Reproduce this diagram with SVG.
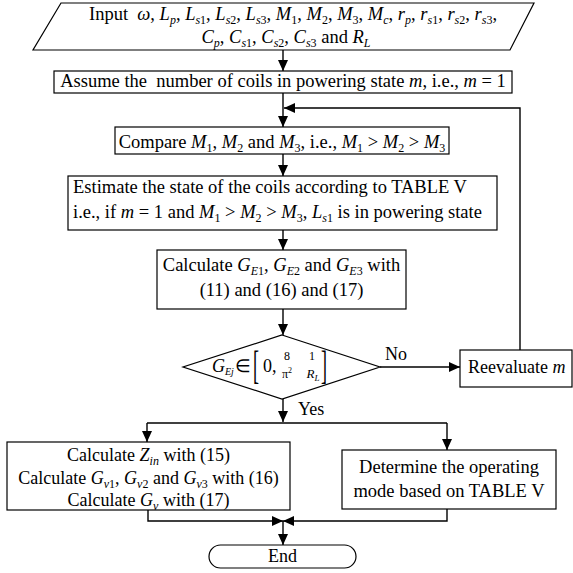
<svg xmlns="http://www.w3.org/2000/svg" width="573" height="573" viewBox="0 0 573 573">
<style>
.t{font-family:"Liberation Serif","Times New Roman",serif;font-size:18.5px;fill:#000}
.f18{font-size:18px}
.i{font-style:italic}
.s{font-size:12px}
.box{fill:#fff;stroke:#000;stroke-width:1.2}
.ln{fill:none;stroke:#000;stroke-width:1.4}
.m{text-anchor:middle}
</style>
<defs>
<marker id="ah" markerUnits="userSpaceOnUse" markerWidth="11" markerHeight="10" refX="11" refY="5" orient="auto">
<path d="M0,0 L11,5 L0,10 z" fill="#000"/>
</marker>
</defs>
<rect width="573" height="573" fill="#fff"/>

<g id="connectors">
<path class="ln" d="M283,50 V71" marker-end="url(#ah)"/>
<path class="ln" d="M283,93 V127" marker-end="url(#ah)"/>
<path class="ln" d="M520,350 V108 H284" marker-end="url(#ah)"/>
<path class="ln" d="M283,154 V176" marker-end="url(#ah)"/>
<path class="ln" d="M283,230 V250" marker-end="url(#ah)"/>
<path class="ln" d="M283,309 V335" marker-end="url(#ah)"/>
<path class="ln" d="M380,367 H460" marker-end="url(#ah)"/>
<path class="ln" d="M283,399 V422" marker-end="url(#ah)"/>
<path class="ln" d="M147,423 H447"/>
<path class="ln" d="M147,423 V442" marker-end="url(#ah)"/>
<path class="ln" d="M447,423 V450" marker-end="url(#ah)"/>
<path class="ln" d="M148,510 V521 H283" marker-end="url(#ah)"/>
<path class="ln" d="M447,509 V521 H283" marker-end="url(#ah)"/>
<path class="ln" d="M283,521 V545" marker-end="url(#ah)"/>
<text class="t f18" x="385" y="360">No</text>
<text class="t f18" x="298" y="415">Yes</text>
</g>

<g id="input">
<polygon class="box" points="61,3 534,3 510,50 33,50"/>
<text class="t m" x="293" y="20" xml:space="preserve">Input  <tspan class="i">ω</tspan>, <tspan class="i">L</tspan><tspan class="s i" dy="4">p</tspan><tspan dy="-4">, </tspan><tspan class="i">L</tspan><tspan class="s" dy="4"><tspan class="i">s</tspan>1</tspan><tspan dy="-4">, </tspan><tspan class="i">L</tspan><tspan class="s" dy="4"><tspan class="i">s</tspan>2</tspan><tspan dy="-4">, </tspan><tspan class="i">L</tspan><tspan class="s" dy="4"><tspan class="i">s</tspan>3</tspan><tspan dy="-4">, </tspan><tspan class="i">M</tspan><tspan class="s" dy="4">1</tspan><tspan dy="-4">, </tspan><tspan class="i">M</tspan><tspan class="s" dy="4">2</tspan><tspan dy="-4">, </tspan><tspan class="i">M</tspan><tspan class="s" dy="4">3</tspan><tspan dy="-4">, </tspan><tspan class="i">M</tspan><tspan class="s i" dy="4">c</tspan><tspan dy="-4">, </tspan><tspan class="i">r</tspan><tspan class="s i" dy="4">p</tspan><tspan dy="-4">, </tspan><tspan class="i">r</tspan><tspan class="s" dy="4"><tspan class="i">s</tspan>1</tspan><tspan dy="-4">, </tspan><tspan class="i">r</tspan><tspan class="s" dy="4"><tspan class="i">s</tspan>2</tspan><tspan dy="-4">, </tspan><tspan class="i">r</tspan><tspan class="s" dy="4"><tspan class="i">s</tspan>3</tspan><tspan dy="-4">,</tspan></text>
<text class="t m" x="286" y="42.5" xml:space="preserve"><tspan class="i">C</tspan><tspan class="s i" dy="4">p</tspan><tspan dy="-4">, </tspan><tspan class="i">C</tspan><tspan class="s" dy="4"><tspan class="i">s</tspan>1</tspan><tspan dy="-4">, </tspan><tspan class="i">C</tspan><tspan class="s" dy="4"><tspan class="i">s</tspan>2</tspan><tspan dy="-4">, </tspan><tspan class="i">C</tspan><tspan class="s" dy="4"><tspan class="i">s</tspan>3</tspan><tspan dy="-4"> and </tspan><tspan class="i">R</tspan><tspan class="s i" dy="4">L</tspan></text>
</g>

<g id="assume">
<rect class="box" x="54" y="71" width="458" height="22"/>
<text class="t m" x="283" y="87" xml:space="preserve">Assume the  number of coils in powering state <tspan class="i">m</tspan>, i.e., <tspan class="i">m</tspan> = 1</text>
</g>

<g id="compare">
<rect class="box" x="115" y="127" width="334" height="27"/>
<text class="t m" x="282" y="148" xml:space="preserve">Compare <tspan class="i">M</tspan><tspan class="s" dy="4">1</tspan><tspan dy="-4">, </tspan><tspan class="i">M</tspan><tspan class="s" dy="4">2</tspan><tspan dy="-4"> and </tspan><tspan class="i">M</tspan><tspan class="s" dy="4">3</tspan><tspan dy="-4">, i.e., </tspan><tspan class="i">M</tspan><tspan class="s" dy="4">1</tspan><tspan dy="-4"> &gt; </tspan><tspan class="i">M</tspan><tspan class="s" dy="4">2</tspan><tspan dy="-4"> &gt; </tspan><tspan class="i">M</tspan><tspan class="s" dy="4">3</tspan></text>
</g>

<g id="estimate">
<rect class="box" x="68" y="176" width="429" height="54"/>
<text class="t" x="73" y="193">Estimate the state of the coils according to TABLE V</text>
<text class="t" x="73" y="218" xml:space="preserve">i.e., if <tspan class="i">m</tspan> = 1 and <tspan class="i">M</tspan><tspan class="s" dy="4">1</tspan><tspan dy="-4"> &gt; </tspan><tspan class="i">M</tspan><tspan class="s" dy="4">2</tspan><tspan dy="-4"> &gt; </tspan><tspan class="i">M</tspan><tspan class="s" dy="4">3</tspan><tspan dy="-4">, </tspan><tspan class="i">L</tspan><tspan class="s" dy="4"><tspan class="i">s</tspan>1</tspan><tspan dy="-4"> is in powering state</tspan></text>
</g>

<g id="calc-ge">
<rect class="box" x="157" y="250" width="249" height="59"/>
<text class="t m" x="281.5" y="271" xml:space="preserve">Calculate <tspan class="i">G</tspan><tspan class="s" dy="4"><tspan class="i">E</tspan>1</tspan><tspan dy="-4">, </tspan><tspan class="i">G</tspan><tspan class="s" dy="4"><tspan class="i">E</tspan>2</tspan><tspan dy="-4"> and </tspan><tspan class="i">G</tspan><tspan class="s" dy="4"><tspan class="i">E</tspan>3</tspan><tspan dy="-4"> with</tspan></text>
<text class="t m" x="281.5" y="296">(11) and (16) and (17)</text>
</g>

<g id="decision">
<polygon class="box" points="282,335 380,367 282,399 183,367"/>
<text class="t f18" x="212" y="372"><tspan class="i">G</tspan><tspan class="i" dy="3" style="font-size:10px">Ej</tspan></text>
<text class="t f18" x="235" y="372">∈</text>
<text class="t f18" transform="translate(253,379) scale(1,2.2)">[</text>
<text class="t f18" x="263" y="372">0,</text>
<text class="t m" x="287" y="360" style="font-size:12px">8</text>
<text class="t m" x="287" y="378" style="font-size:12px">π<tspan dy="-5" style="font-size:8px">2</tspan></text>
<text class="t m" x="312" y="360" style="font-size:12px">1</text>
<text class="t m" x="313" y="378" style="font-size:13px"><tspan class="i">R</tspan><tspan class="i" dy="3" style="font-size:9px">L</tspan></text>
<text class="t f18" transform="translate(321,379) scale(1,2.2)">]</text>
</g>

<g id="reevaluate">
<rect class="box" x="460" y="350" width="112" height="37"/>
<text class="t f18" x="468" y="373">Reevaluate <tspan class="i">m</tspan></text>
</g>

<g id="calc-z">
<rect class="box" x="7" y="442" width="283" height="68"/>
<text class="t f18 m" x="148.5" y="461" xml:space="preserve">Calculate <tspan class="i">Z</tspan><tspan class="s i" dy="4">in</tspan><tspan dy="-4"> with (15)</tspan></text>
<text class="t f18 m" x="148.5" y="484" xml:space="preserve">Calculate <tspan class="i">G</tspan><tspan class="s" dy="4"><tspan class="i">v</tspan>1</tspan><tspan dy="-4">, </tspan><tspan class="i">G</tspan><tspan class="s" dy="4"><tspan class="i">v</tspan>2</tspan><tspan dy="-4"> and </tspan><tspan class="i">G</tspan><tspan class="s" dy="4"><tspan class="i">v</tspan>3</tspan><tspan dy="-4"> with (16)</tspan></text>
<text class="t f18 m" x="148.5" y="506" xml:space="preserve">Calculate <tspan class="i">G</tspan><tspan class="s i" dy="4">v</tspan><tspan dy="-4"> with (17)</tspan></text>
</g>

<g id="mode">
<rect class="box" x="342" y="450" width="214" height="59"/>
<text class="t m" x="449" y="473">Determine the operating</text>
<text class="t m" x="449" y="497">mode based on TABLE V</text>
</g>

<g id="end">
<rect class="box" x="209" y="545" width="147" height="23" rx="11.5"/>
<text class="t f18 m" x="282.5" y="562">End</text>
</g>
</svg>
